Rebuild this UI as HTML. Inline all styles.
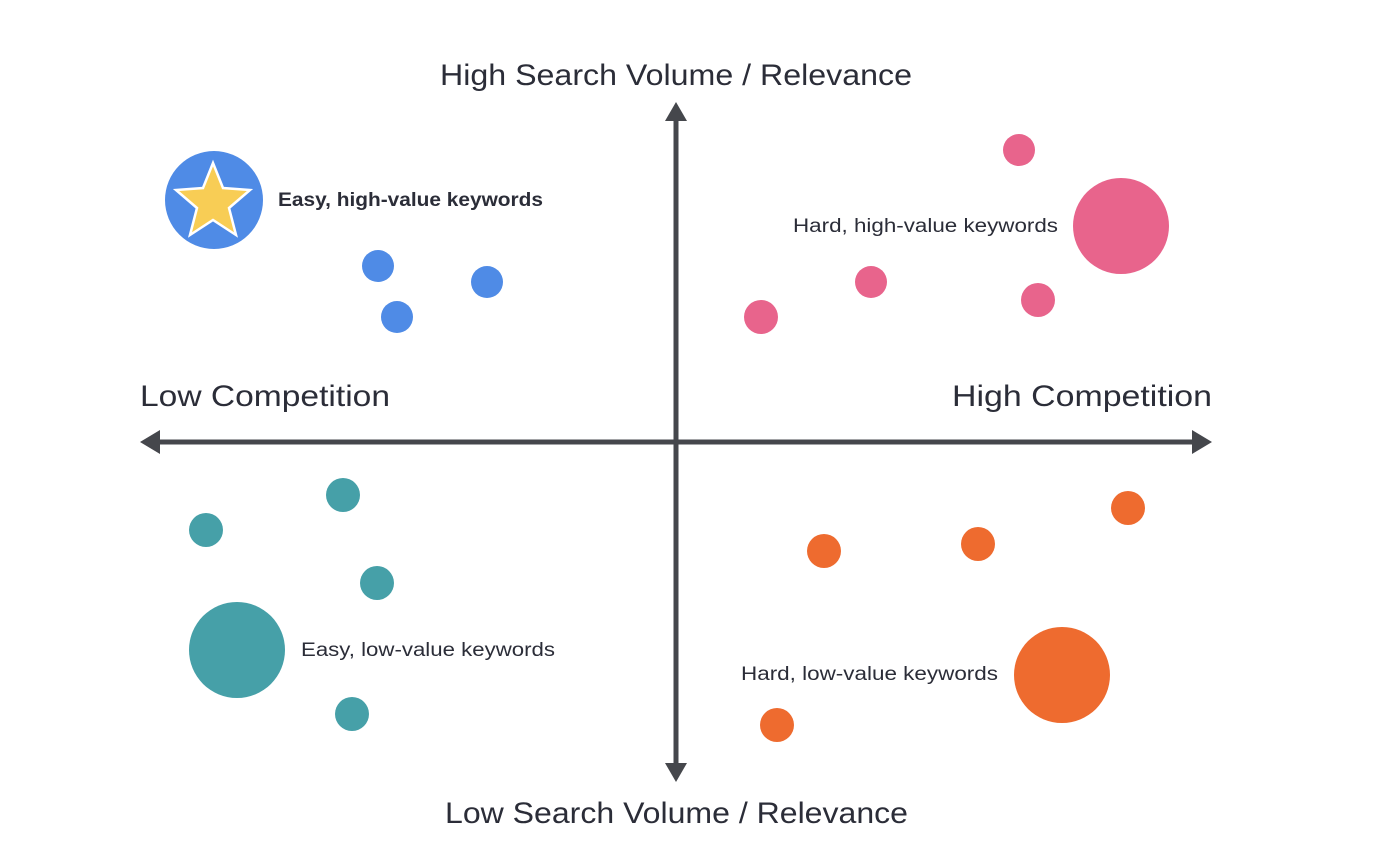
<!DOCTYPE html>
<html><head><style>
body{margin:0;background:#fff;}
svg text{font-family:"Liberation Sans",sans-serif;fill:#2b2d38;}
</style></head><body>
<svg width="1394" height="854" viewBox="0 0 1394 854" xmlns="http://www.w3.org/2000/svg">
<g stroke="#45474c" stroke-width="5" fill="none">
<line x1="676" y1="115" x2="676" y2="768"/>
<line x1="156" y1="442" x2="1196" y2="442"/>
</g>
<g fill="#45474c">
<polygon points="676,102 665,121 687,121"/>
<polygon points="676,782 665,763 687,763"/>
<polygon points="140,442 160,430 160,454"/>
<polygon points="1212,442 1192,430 1192,454"/>
</g>
<text x="440" y="85" font-size="30" textLength="472" lengthAdjust="spacingAndGlyphs">High Search Volume / Relevance</text>
<text x="445" y="823" font-size="30" textLength="463" lengthAdjust="spacingAndGlyphs">Low Search Volume / Relevance</text>
<text x="140" y="406" font-size="30" textLength="250" lengthAdjust="spacingAndGlyphs">Low Competition</text>
<text x="952" y="406" font-size="30" textLength="260" lengthAdjust="spacingAndGlyphs">High Competition</text>
<circle cx="214" cy="200" r="49" fill="#4f8be6"/>
<polygon points="213,163 223,188 250,190 229,208 236,235 213,220 190,235 197,208 176,190 203,188" fill="#f8cd55" stroke="#fff" stroke-width="2.5"/>
<text x="278" y="206" font-size="19" font-weight="bold" textLength="265" lengthAdjust="spacingAndGlyphs">Easy, high-value keywords</text>
<g fill="#4f8be6"><circle cx="378" cy="266" r="16"/><circle cx="397" cy="317" r="16"/><circle cx="487" cy="282" r="16"/></g>
<g fill="#e8648c"><circle cx="1019" cy="150" r="16"/><circle cx="1121" cy="226" r="48"/><circle cx="871" cy="282" r="16"/><circle cx="1038" cy="300" r="17"/><circle cx="761" cy="317" r="17"/></g>
<text x="793" y="232" font-size="19" textLength="265" lengthAdjust="spacingAndGlyphs">Hard, high-value keywords</text>
<g fill="#46a0a8"><circle cx="343" cy="495" r="17"/><circle cx="206" cy="530" r="17"/><circle cx="377" cy="583" r="17"/><circle cx="237" cy="650" r="48"/><circle cx="352" cy="714" r="17"/></g>
<text x="301" y="656" font-size="19" textLength="254" lengthAdjust="spacingAndGlyphs">Easy, low-value keywords</text>
<g fill="#ee6b2f"><circle cx="1128" cy="508" r="17"/><circle cx="824" cy="551" r="17"/><circle cx="978" cy="544" r="17"/><circle cx="1062" cy="675" r="48"/><circle cx="777" cy="725" r="17"/></g>
<text x="741" y="680" font-size="19" textLength="257" lengthAdjust="spacingAndGlyphs">Hard, low-value keywords</text>
</svg>
</body></html>
